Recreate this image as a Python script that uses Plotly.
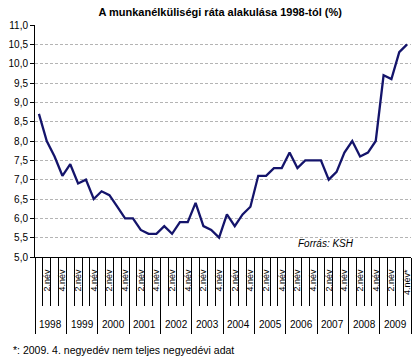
import plotly.graph_objects as go

years = [str(y) for y in range(1998, 2010)]
quarter_labels = ["", "2.név", "", "4.név"]
values = [8.7, 8.0, 7.6, 7.1,
          7.4, 6.9, 7.0, 6.5,
          6.7, 6.6, 6.3, 6.0,
          6.0, 5.7, 5.6, 5.6,
          5.8, 5.6, 5.9, 5.9,
          6.4, 5.8, 5.7, 5.5,
          6.1, 5.8, 6.1, 6.3,
          7.1, 7.1, 7.3, 7.3,
          7.7, 7.3, 7.5, 7.5,
          7.5, 7.0, 7.2, 7.7,
          8.0, 7.6, 7.7, 8.0,
          9.7, 9.6, 10.3, 10.5]
y_ticks = [5.0, 5.5, 6.0, 6.5, 7.0, 7.5, 8.0, 8.5, 9.0, 9.5, 10.0, 10.5, 11.0]

n = len(values)
idx = list(range(n))
lab_vals = [i for i in idx if quarter_labels[i % 4]]
lab_text = [quarter_labels[i % 4] for i in lab_vals]
lab_text[-1] = lab_text[-1] + "*"
bounds = [i - 0.5 for i in range(n + 1)]
year_bounds = [i - 0.5 for i in range(0, n + 1, 4)]

FONT = "Liberation Sans, Arial, sans-serif"

fig = go.Figure()
fig.add_trace(go.Scatter(x=idx, y=values, mode="lines",
                         line=dict(color="#14146b", width=2.3),
                         showlegend=False, hoverinfo="skip"))
# invisible traces to activate overlay axes
fig.add_trace(go.Scatter(x=[0], y=[5], xaxis="x2", mode="markers",
                         marker=dict(opacity=0), showlegend=False, hoverinfo="skip"))
fig.add_trace(go.Scatter(x=[0], y=[5], xaxis="x3", mode="markers",
                         marker=dict(opacity=0), showlegend=False, hoverinfo="skip"))

xr = [-0.5, n - 0.5]
fig.update_layout(
    width=417, height=362,
    margin=dict(l=35, r=6, t=25, b=105),
    paper_bgcolor="white", plot_bgcolor="white",
    separators=", ",
    font=dict(family=FONT, size=9, color="black"),
    title=dict(text="<b>A munkanélküliségi ráta alakulása 1998-tól (%)</b>",
               x=0.528, xanchor="center", y=0.966, yanchor="middle",
               font=dict(family=FONT, size=11, color="black")),
    xaxis=dict(range=xr, tickmode="array", tickvals=lab_vals, ticktext=lab_text,
               tickangle=-90, ticks="outside", ticklen=8, tickcolor="rgba(0,0,0,0)",
               showline=True, linecolor="black", linewidth=1, showgrid=False,
               zeroline=False, tickfont=dict(size=9, family=FONT)),
    xaxis2=dict(range=xr, overlaying="x", anchor="y", side="bottom",
                tickmode="array", tickvals=bounds, ticks="outside", ticklen=48,
                tickcolor="black", tickwidth=1, showticklabels=False,
                showgrid=False, zeroline=False, showline=False),
    xaxis3=dict(range=xr, overlaying="x", anchor="y", side="bottom",
                tickmode="array", tickvals=year_bounds, ticks="outside", ticklen=76,
                tickcolor="black", tickwidth=1, showticklabels=False,
                showgrid=False, zeroline=False, showline=False),
    yaxis=dict(range=[5, 11], tickmode="array", tickvals=y_ticks, tickformat=".1f",
               ticks="outside", ticklen=4, tickcolor="black",
               showline=True, linecolor="black", linewidth=1,
               showgrid=True, gridcolor="#b4b4b4", griddash="3px,2px", gridwidth=1,
               zeroline=False, tickfont=dict(size=10, family=FONT)),
)

for k, yr in enumerate(years):
    fig.add_annotation(x=4 * k + 1.5, xref="x", y=-0.289, yref="paper",
                       text=yr, showarrow=False, xanchor="center", yanchor="middle",
                       font=dict(size=10, family=FONT))

fig.add_annotation(x=(326 - 35) / 376, xref="paper", y=(257 - 243) / 232, yref="paper",
                   text="<i>Forrás: KSH</i>", showarrow=False,
                   xanchor="center", yanchor="middle", font=dict(size=10, family=FONT))
fig.add_annotation(x=(11 - 35) / 376, xref="paper", y=(257 - 350) / 232, yref="paper",
                   text="*: 2009. 4. negyedév nem teljes negyedévi adat", showarrow=False,
                   xanchor="left", yanchor="middle", font=dict(size=10.5, family=FONT))

fig.write_html("out.html", config={"displayModeBar": False},
               post_script="document.body.style.margin='0';document.body.style.overflow='hidden';")
